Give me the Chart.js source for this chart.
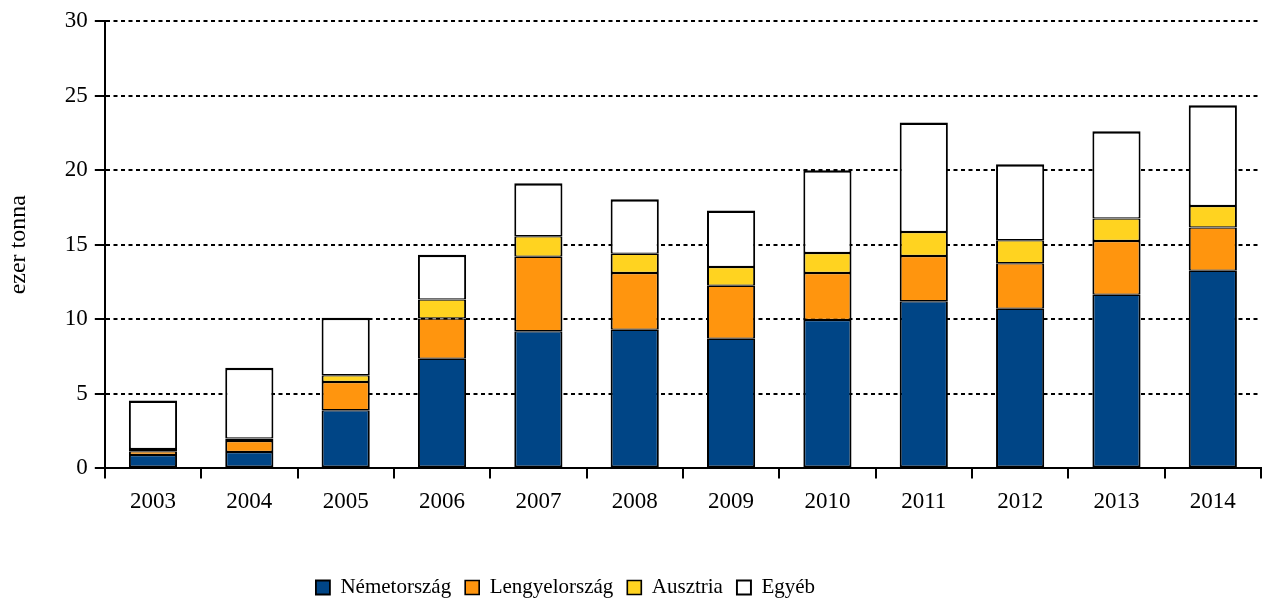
<!DOCTYPE html>
<html>
<head>
<meta charset="utf-8">
<script src="https://cdn.jsdelivr.net/npm/chart.js@4/dist/chart.umd.min.js"></script>
<style>
  html, body { margin: 0; padding: 0; background: #ffffff; }
  #wrap { width: 1263px; height: 600px; }
</style>
</head>
<body>
<div id="wrap"><canvas id="c" width="1263" height="600"></canvas></div>
<script>
const years = ['2003','2004','2005','2006','2007','2008','2009','2010','2011','2012','2013','2014'];
const nemetorszag   = [0.9, 1.1, 3.9, 7.35, 9.2, 9.3, 8.7, 9.95, 11.2, 10.7, 11.65, 13.25];
const lengyelorszag = [0.25, 0.73, 1.9, 2.7, 5.0, 3.8, 3.55, 3.15, 3.05, 3.05, 3.6, 2.9];
const ausztria      = [0.15, 0.17, 0.45, 1.27, 1.37, 1.3, 1.25, 1.35, 1.6, 1.55, 1.5, 1.45];
const egyeb         = [3.25, 4.75, 3.85, 3.0, 3.55, 3.65, 3.8, 5.55, 7.35, 5.1, 5.85, 6.75];
const seriesNames = ['Németország', 'Lengyelország', 'Ausztria', 'Egyéb'];
const yTicks = [0, 5, 10, 15, 20, 25, 30];
const yTitle = 'ezer tonna';

const colors = ['#004586', '#FF950E', '#FFD320', '#FFFFFF'];
const serif = "'Liberation Serif', 'Times New Roman', serif";

function ds(label, data, color, bw) {
  return {
    label: label,
    data: data,
    backgroundColor: color,
    borderColor: '#000000',
    borderWidth: bw,
    borderSkipped: false,
    categoryPercentage: 1.0,
    barPercentage: 0.5
  };
}

const legendShift = {
  id: 'legendShift',
  afterLayout(chart) {
    const lg = chart.legend;
    if (!lg) return;
    const dx = -65, dy = 8;
    lg.left += dx; lg.right += dx;
    lg.top += dy; lg.bottom += dy;
  }
};

new Chart(document.getElementById('c'), {
  type: 'bar',
  plugins: [legendShift],
  data: {
    labels: years,
    datasets: [
      ds(seriesNames[0], nemetorszag, colors[0], {top: 1.25, bottom: 2, left: 2, right: 2}),
      ds(seriesNames[1], lengyelorszag, colors[1], {top: 1.25, bottom: 1.25, left: 2, right: 2}),
      ds(seriesNames[2], ausztria, colors[2], {top: 1.25, bottom: 1.25, left: 2, right: 2}),
      ds(seriesNames[3], egyeb, colors[3], {top: 2.5, bottom: 1.25, left: 2, right: 2})
    ]
  },
  options: {
    responsive: false,
    animation: false,
    devicePixelRatio: 1,
    layout: { padding: { top: 21, right: 2, bottom: 0, left: 0 } },
    plugins: {
      tooltip: { enabled: false },
      legend: {
        position: 'bottom',
        labels: {
          color: '#000000',
          font: { family: serif, size: 21 },
          boxWidth: 14,
          boxHeight: 14,
          padding: 14
        }
      }
    },
    scales: {
      x: {
        stacked: true,
        offset: true,
        grid: {
          display: true,
          offset: true,
          drawOnChartArea: false,
          drawTicks: true,
          tickLength: 10,
          color: '#000000',
          lineWidth: 2
        },
        border: { display: true, color: '#000000', width: 2 },
        ticks: {
          color: '#000000',
          font: { family: serif, size: 23 },
          padding: 10,
          maxRotation: 0,
          autoSkip: false
        },
        title: {
          display: true,
          text: '.',
          color: 'rgba(0,0,0,0)',
          font: { family: serif, size: 10 },
          padding: { top: 17, bottom: 0 }
        }
      },
      y: {
        stacked: true,
        min: 0,
        max: 30,
        afterBuildTicks: (axis) => { axis.ticks = yTicks.map(v => ({ value: v })); },
        grid: {
          display: true,
          drawOnChartArea: true,
          drawTicks: true,
          tickLength: 10,
          color: (ctx) => (ctx.tick && ctx.tick.value === 0) ? 'rgba(0,0,0,0)' : '#000000',
          tickColor: '#000000',
          lineWidth: 2,
          tickBorderDash: []
        },
        border: { display: true, color: '#000000', width: 2, dash: [4, 3.5] },
        ticks: {
          color: '#000000',
          font: { family: serif, size: 23 },
          padding: 7
        },
        title: {
          display: true,
          text: yTitle,
          color: '#000000',
          font: { family: serif, size: 24 },
          padding: { top: 4, bottom: 25 }
        }
      }
    }
  }
});
</script>
</body>
</html>
